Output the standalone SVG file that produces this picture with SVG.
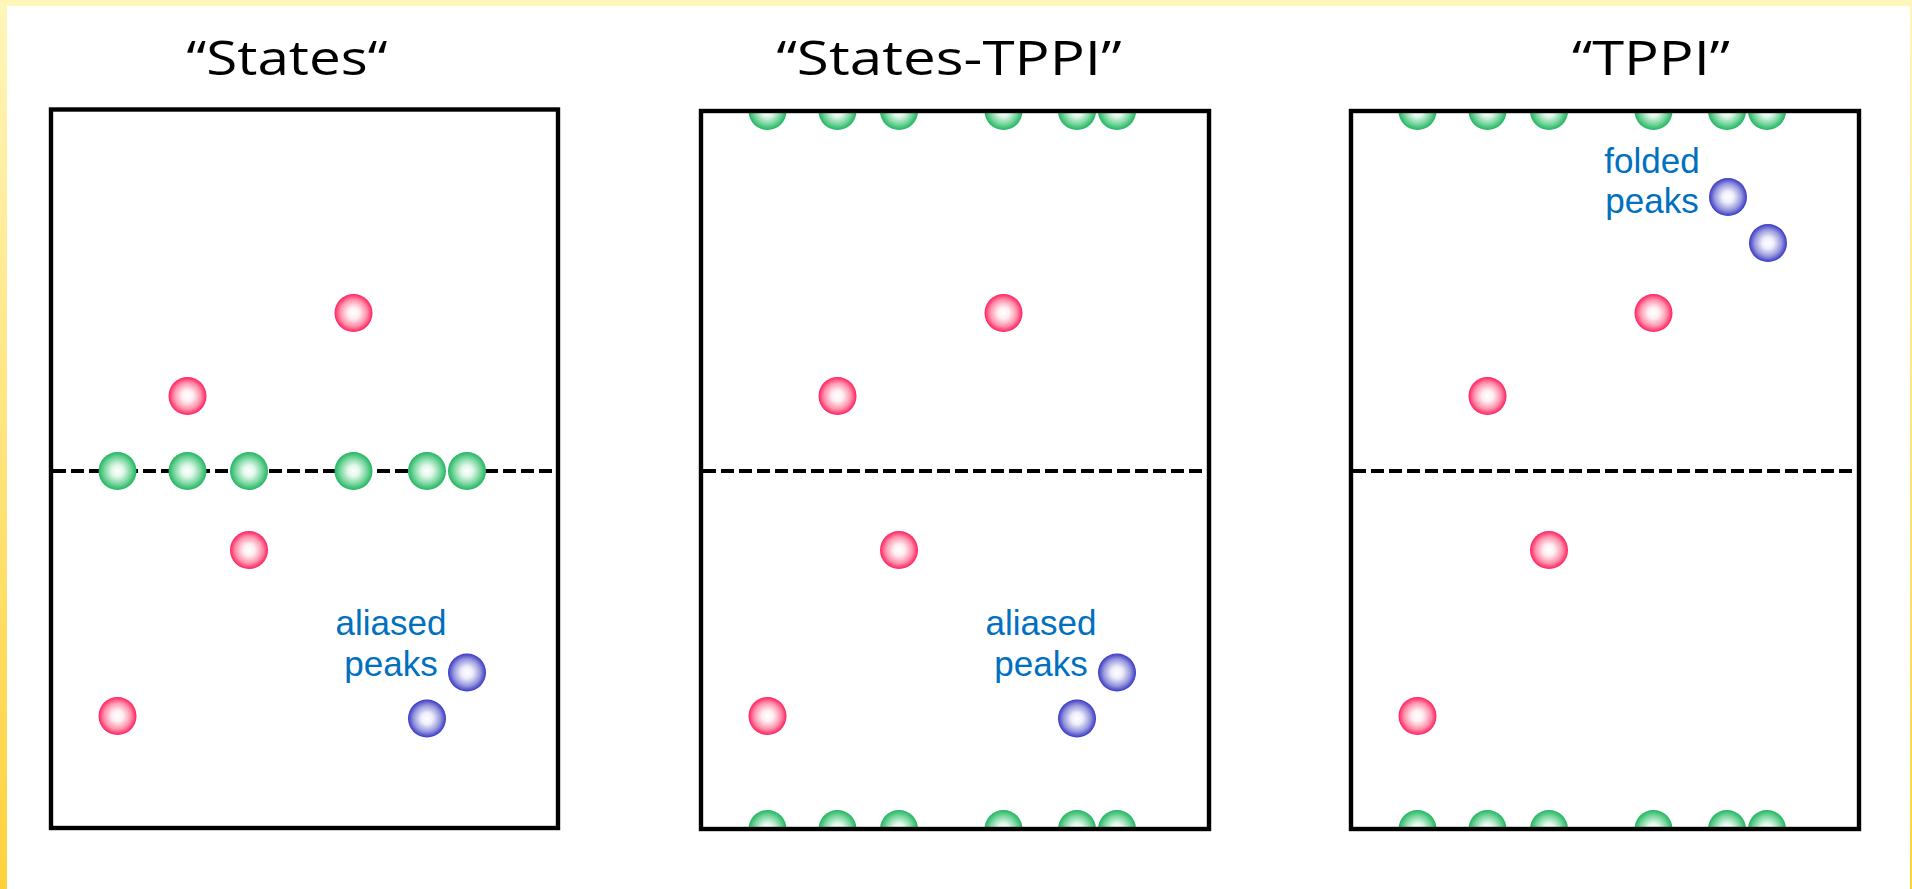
<svg xmlns="http://www.w3.org/2000/svg" width="1912" height="889" viewBox="0 0 1912 889">
  <style>
    .frame { fill: none; stroke: #000; stroke-width: 4.4; }
    .axis { stroke: #000; stroke-width: 4; stroke-dasharray: 13 5; }
    .title { font-family: "Open Sans", "Liberation Sans", sans-serif; font-size: 47px; fill: #000; text-anchor: middle; }
    .note { font-family: "Liberation Sans", Arial, sans-serif; font-size: 35px; fill: #0070C0; text-anchor: middle; }
    .g { fill: url(#gGreen); }
    .r { fill: url(#gRed); }
    .b { fill: url(#gBlue); }
  </style>
  <defs>
    <linearGradient id="bgEdge" x1="0" y1="0" x2="0" y2="1">
      <stop offset="0" stop-color="#FFF6BA"/>
      <stop offset="1" stop-color="#FFD23C"/>
    </linearGradient>
    <radialGradient id="gGreen" cx="0.5" cy="0.5" r="0.5">
      <stop offset="0" stop-color="#FFFFFF"/>
      <stop offset="0.3" stop-color="#E2F8EA"/>
      <stop offset="0.7" stop-color="#78D69E"/>
      <stop offset="1" stop-color="#22B562"/>
    </radialGradient>
    <radialGradient id="gRed" cx="0.5" cy="0.5" r="0.5">
      <stop offset="0" stop-color="#FFFFFF"/>
      <stop offset="0.3" stop-color="#FFEEF2"/>
      <stop offset="0.7" stop-color="#FF92AC"/>
      <stop offset="1" stop-color="#FF2060"/>
    </radialGradient>
    <radialGradient id="gBlue" cx="0.5" cy="0.5" r="0.5">
      <stop offset="0" stop-color="#FFFFFF"/>
      <stop offset="0.3" stop-color="#EEEEFA"/>
      <stop offset="0.7" stop-color="#9898DE"/>
      <stop offset="1" stop-color="#3838C4"/>
    </radialGradient>
    <clipPath id="clip2"><rect x="701" y="111" width="508" height="718"/></clipPath>
    <clipPath id="clip3"><rect x="1351" y="111" width="508" height="718"/></clipPath>
  </defs>

  <!-- slide background with yellow edge -->
  <rect x="0" y="0" width="1912" height="889" fill="url(#bgEdge)"/>
  <rect x="7" y="6" width="1903" height="883" fill="#FFFFFF"/>

  <!-- panel 1: States -->
  <g id="panel-states">
    <text class="title" x="287" y="75" textLength="201" lengthAdjust="spacingAndGlyphs">“States“</text>
    <line class="axis" x1="53" y1="471" x2="556" y2="471"/>
    <g id="states-axial">
      <circle class="g" cx="117.5" cy="471" r="19"/>
      <circle class="g" cx="187.5" cy="471" r="19"/>
      <circle class="g" cx="249" cy="471" r="19"/>
      <circle class="g" cx="353.5" cy="471" r="19"/>
      <circle class="g" cx="427" cy="471" r="19"/>
      <circle class="g" cx="467" cy="471" r="19"/>
    </g>
    <g id="states-peaks">
      <circle class="r" cx="353.5" cy="313" r="19"/>
      <circle class="r" cx="187.5" cy="396" r="19"/>
      <circle class="r" cx="249" cy="550" r="19"/>
      <circle class="r" cx="117.5" cy="716" r="19"/>
    </g>
    <g id="states-aliased">
      <circle class="b" cx="467" cy="672.5" r="19"/>
      <circle class="b" cx="427" cy="718.5" r="19"/>
      <text class="note"><tspan x="391" y="635">aliased</tspan><tspan x="391" y="676">peaks</tspan></text>
    </g>
    <rect class="frame" x="51" y="109.5" width="507" height="718.5"/>
  </g>

  <!-- panel 2: States-TPPI -->
  <g id="panel-states-tppi">
    <text class="title" x="949" y="75" textLength="345" lengthAdjust="spacingAndGlyphs">“States-TPPI”</text>
    <line class="axis" x1="703" y1="471" x2="1207" y2="471"/>
    <g id="states-tppi-axial" clip-path="url(#clip2)">
      <circle class="g" cx="767.5" cy="111" r="19"/>
      <circle class="g" cx="837.5" cy="111" r="19"/>
      <circle class="g" cx="899" cy="111" r="19"/>
      <circle class="g" cx="1003.5" cy="111" r="19"/>
      <circle class="g" cx="1077" cy="111" r="19"/>
      <circle class="g" cx="1117" cy="111" r="19"/>
      <circle class="g" cx="767.5" cy="829" r="19"/>
      <circle class="g" cx="837.5" cy="829" r="19"/>
      <circle class="g" cx="899" cy="829" r="19"/>
      <circle class="g" cx="1003.5" cy="829" r="19"/>
      <circle class="g" cx="1077" cy="829" r="19"/>
      <circle class="g" cx="1117" cy="829" r="19"/>
    </g>
    <g id="states-tppi-peaks">
      <circle class="r" cx="1003.5" cy="313" r="19"/>
      <circle class="r" cx="837.5" cy="396" r="19"/>
      <circle class="r" cx="899" cy="550" r="19"/>
      <circle class="r" cx="767.5" cy="716" r="19"/>
    </g>
    <g id="states-tppi-aliased">
      <circle class="b" cx="1117" cy="672.5" r="19"/>
      <circle class="b" cx="1077" cy="718.5" r="19"/>
      <text class="note"><tspan x="1041" y="635">aliased</tspan><tspan x="1041" y="676">peaks</tspan></text>
    </g>
    <rect class="frame" x="701" y="111" width="508" height="718"/>
  </g>

  <!-- panel 3: TPPI -->
  <g id="panel-tppi">
    <text class="title" x="1651" y="75" textLength="158" lengthAdjust="spacingAndGlyphs">“TPPI”</text>
    <line class="axis" x1="1353" y1="471" x2="1857" y2="471"/>
    <g id="tppi-axial" clip-path="url(#clip3)">
      <circle class="g" cx="1417.5" cy="111" r="19"/>
      <circle class="g" cx="1487.5" cy="111" r="19"/>
      <circle class="g" cx="1549" cy="111" r="19"/>
      <circle class="g" cx="1653.5" cy="111" r="19"/>
      <circle class="g" cx="1727" cy="111" r="19"/>
      <circle class="g" cx="1767" cy="111" r="19"/>
      <circle class="g" cx="1417.5" cy="829" r="19"/>
      <circle class="g" cx="1487.5" cy="829" r="19"/>
      <circle class="g" cx="1549" cy="829" r="19"/>
      <circle class="g" cx="1653.5" cy="829" r="19"/>
      <circle class="g" cx="1727" cy="829" r="19"/>
      <circle class="g" cx="1767" cy="829" r="19"/>
    </g>
    <g id="tppi-peaks">
      <circle class="r" cx="1653.5" cy="313" r="19"/>
      <circle class="r" cx="1487.5" cy="396" r="19"/>
      <circle class="r" cx="1549" cy="550" r="19"/>
      <circle class="r" cx="1417.5" cy="716" r="19"/>
    </g>
    <g id="tppi-folded">
      <circle class="b" cx="1728" cy="197" r="19"/>
      <circle class="b" cx="1768" cy="243" r="19"/>
      <text class="note"><tspan x="1652" y="173">folded</tspan><tspan x="1652" y="213">peaks</tspan></text>
    </g>
    <rect class="frame" x="1351" y="111" width="508" height="718"/>
  </g>
</svg>
